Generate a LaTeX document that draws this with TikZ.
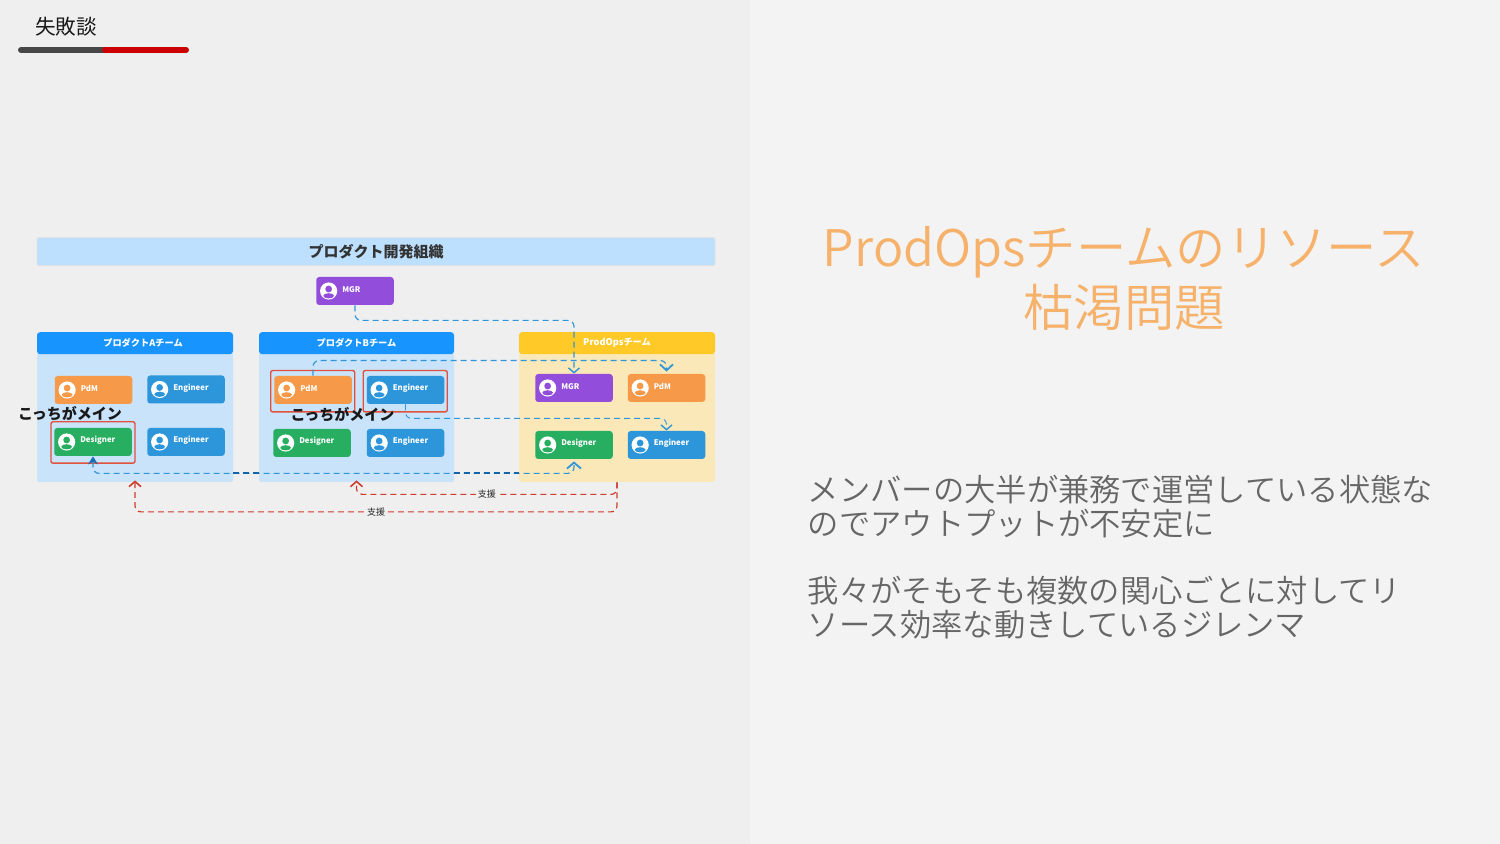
\documentclass[tikz,border=0pt]{standalone}
\usepackage{fontspec}
\setmainfont{Noto Sans CJK JP}
\newfontfamily\lightcjk{Noto Sans CJK JP DemiLight}
\usetikzlibrary{arrows.meta, positioning}
\definecolor{pageleft}{RGB}{239,239,239}
\definecolor{pageright}{RGB}{243,243,243}
\definecolor{bannerfill}{RGB}{189,224,254}
\definecolor{teamfill}{RGB}{200,227,250}
\definecolor{teamhead}{RGB}{24,148,255}
\definecolor{opsfill}{RGB}{250,232,185}
\definecolor{opshead}{RGB}{255,202,40}
\definecolor{pdmfill}{RGB}{246,153,72}
\definecolor{engfill}{RGB}{45,150,219}
\definecolor{desfill}{RGB}{39,174,96}
\definecolor{mgrfill}{RGB}{147,77,219}
\definecolor{focusred}{RGB}{224,82,60}
\definecolor{linkblue}{RGB}{48,150,218}
\definecolor{linkdark}{RGB}{20,100,170}
\definecolor{supred}{RGB}{205,60,45}
\definecolor{titleorange}{RGB}{246,178,107}
\definecolor{bodygray}{RGB}{102,102,102}
\tikzset{
  banner/.style={rectangle, rounded corners=1pt, draw=black!12, line width=.3pt, fill=bannerfill,
                 minimum width=339pt, minimum height=14pt, text=black!80, font=\fontsize{7.5}{9}\selectfont\bfseries},
  teambody/.style={rectangle, rounded corners=1pt, fill=teamfill, minimum width=98pt, minimum height=64.5pt},
  teamhdr/.style={rectangle, rounded corners=1.5pt, fill=teamhead, minimum width=98pt, minimum height=11pt,
                  inner sep=0pt, text=white, font=\fontsize{4.6}{5}\selectfont\bfseries},
  card/.style={rectangle, rounded corners=1.5pt, minimum width=38.75pt, minimum height=14pt, inner sep=0pt},
  avatar/.style={circle, fill=white, minimum size=8.6pt, inner sep=0pt},
  roletext/.style={anchor=west, inner sep=0pt, text=white, font=\fontsize{3.9}{4}\selectfont\bfseries},
  focus/.style={rectangle, rounded corners=1pt, draw=focusred, line width=.7pt, minimum width=42pt, minimum height=20.7pt},
  mainnote/.style={inner sep=0pt, text=black!90, font=\fontsize{7.5}{9}\selectfont\bfseries},
  link/.style={densely dashed, line width=.6pt, draw=linkblue, rounded corners=3pt,
               -{Straight Barb[length=2.4pt,width=5.5pt,line width=.7pt]}},
  suparr/.style={densely dashed, line width=.6pt, draw=supred, rounded corners=3pt,
                 -{Straight Barb[length=2.6pt,width=6pt,line width=.8pt]}, shorten >=-1pt},
  tag/.style={fill=pageleft, inner sep=1pt, text=black!85, font=\fontsize{4.5}{5}\selectfont}
}
\newcommand{\rolecard}[4]{%
  \node[card, fill=#2, #4] (#1) {};
  \node[avatar] (#1i) at ([xshift=6.4pt]#1.west) {};
  \fill[#2] ([yshift=1pt]#1i.center) circle (1.7pt);
  \fill[#2] ([yshift=-2.4pt]#1i.center) ellipse [x radius=2.7pt, y radius=1.3pt];
  \node[roletext] (#1t) at ([xshift=13pt,yshift=.7pt]#1.west) {#3};
}

\begin{document}
\begin{tikzpicture}[x=0.5pt, y=-0.5pt]
\useasboundingbox (0,0) rectangle (1500,844);
\fill[pageright] (0,0) rectangle (1500,844);
\fill[pageleft] (0,0) rectangle (750,844);

% header
\node[inner sep=0pt, font=\fontsize{10.3}{12}\selectfont, text=black!90] (pagehdr) at (66,27) {失敗談};
\coordinate (barl) at (21,50);
\coordinate (barm) at (105,50);
\coordinate (barr) at (186,50);
\draw[line width=3pt, line cap=round, draw=black!72] (barl) -- (barm);
\draw[line width=3pt, line cap=round, draw=red!80!black] (barm) -- (barr);

% organisation
\node[banner] (org) at (376,251.5) {プロダクト開発組織};
\rolecard{topMgr}{mgrfill}{MGR}{at={(355,291)}}

% teams
\node[teambody] (aBody) at (135,417.5) {};
\node[teamhdr, above=-1pt of aBody] (aHead) {\hspace*{8pt}プロダクトAチーム};
\node[teambody, minimum width=97.5pt] (bBody) at (356.5,417.5) {};
\node[teamhdr, minimum width=97.5pt, above=-1pt of bBody] (bHead) {プロダクトBチーム};
\node[teambody, fill=opsfill] (opsBody) at (617,417.5) {};
\node[teamhdr, fill=opshead, above=-1pt of opsBody] (opsHead) {ProdOpsチーム};

\rolecard{aPdm}{pdmfill}{PdM}{at={(93.5,390)}}
\rolecard{aEng}{engfill}{Engineer}{at={(186,389.5)}}
\rolecard{aDes}{desfill}{Designer}{at={(93,442)}}
\rolecard{aEngb}{engfill}{Engineer}{at={(186,442)}}

\rolecard{bPdm}{pdmfill}{PdM}{at={(313,390)}}
\rolecard{bEng}{engfill}{Engineer}{at={(405.5,390)}}
\rolecard{bDes}{desfill}{Designer}{at={(312,443)}}
\rolecard{bEngb}{engfill}{Engineer}{at={(405.5,443)}}

\rolecard{opsMgr}{mgrfill}{MGR}{at={(574,388)}}
\rolecard{opsPdm}{pdmfill}{PdM}{at={(666.5,388)}}
\rolecard{opsDes}{desfill}{Designer}{at={(574,445)}}
\rolecard{opsEng}{engfill}{Engineer}{at={(666.5,445)}}

\node[focus] (aFocus) at (93,442.5) {};
\node[focus] (bFocusl) at (312.75,391.25) {};
\node[focus] (bFocusr) at (405.25,391.25) {};

% connectors
\draw[link] (topMgr.south) -- ++(0,15) -| (opsMgr.north);
\draw[link, -{Straight Barb[length=3pt,width=6.5pt,line width=.9pt]}, shorten >=1pt] (bPdm.north) -- ++(0,-15) -| (opsPdm.north);
\draw[link, line width=.45pt] (bEng.south) -- ++(0,14) -| (opsEng.north);
\draw[link, {Stealth[length=4pt,width=5pt,color=linkdark!80!linkblue]}-{Straight Barb[length=3pt,width=7pt,line width=.9pt]}, shorten >=1pt]
  (aDes.south) -- ++(0,17) -| (opsDes.south);
\coordinate (busy) at (0,473);
\draw[densely dashed, line width=.65pt, draw=linkdark] (aBody.east |- busy) -- (bBody.west |- busy);
\draw[densely dashed, line width=.65pt, draw=linkdark] (bBody.east |- busy) -- (opsBody.west |- busy);

\draw[suparr] (opsBody.south) -- ++(0,12) -| node[tag, pos=.25] (tagb) {支援} (bBody.south);
\draw[suparr] (opsBody.south) -- ++(0,29.5) -| node[tag, pos=.25] (taga) {支援} (aBody.south);

\node[mainnote] (noteA) at (70,414) {こっちがメイン};
\node[mainnote] (noteB) at (342.5,415) {こっちがメイン};

% right panel
\node[align=center, inner sep=0pt, text=titleorange, font=\fontsize{25.2}{30}\selectfont\lightcjk] (title) at (1124,278)
  {ProdOpsチームのリソース\\枯渇問題};
\node[anchor=west, align=left, inner sep=0pt, text=bodygray, font=\fontsize{15.65}{17}\selectfont\lightcjk] (bodya) at (807.5,507)
  {メンバーの大半が兼務で運営している状態な\\のでアウトプットが不安定に};
\node[anchor=west, align=left, inner sep=0pt, text=bodygray, font=\fontsize{15.65}{17}\selectfont\lightcjk] (bodyb) at (807.5,608)
  {我々がそもそも複数の関心ごとに対してリ\\ソース効率な動きしているジレンマ};
\end{tikzpicture}
\end{document}
